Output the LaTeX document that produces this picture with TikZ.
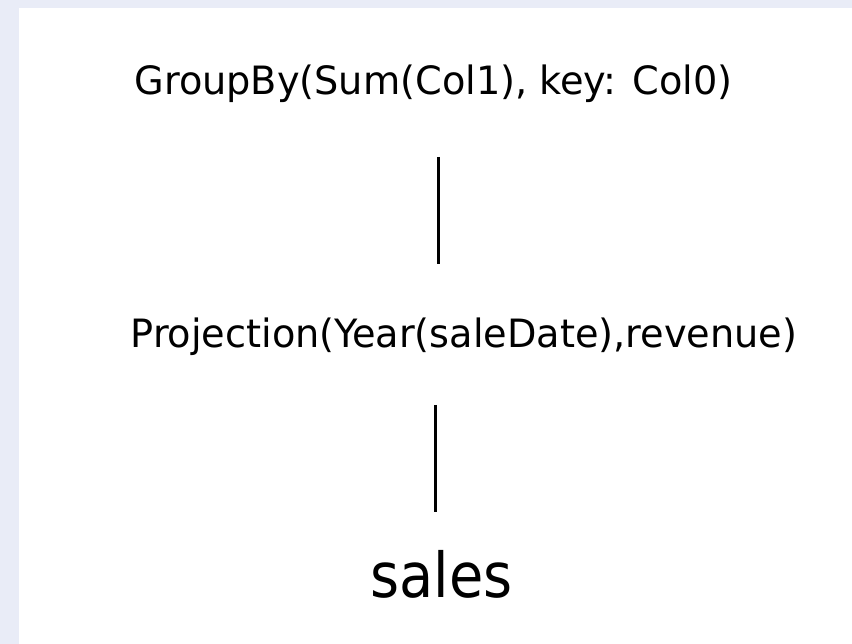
\documentclass[tikz,border=0pt]{standalone}
\usepackage{fontspec}
\setmainfont{DejaVu Sans Condensed}
\newfontfamily\opfont[FakeStretch=1.09]{DejaVu Sans Condensed}
\definecolor{pagebg}{HTML}{E9ECF7}
\tikzset{
  opnode/.style={anchor=base, inner sep=0pt, font=\opfont\fontsize{39}{45}\selectfont},
  relnode/.style={anchor=base, inner sep=0pt, font=\fontsize{62}{70}\selectfont},
  edge/.style={line width=3pt}
}
\begin{document}
\begin{tikzpicture}[x=1pt, y=-1pt]
  % page background and white slide area
  \fill[pagebg] (0,0) rectangle (852,644);
  \fill[white] (19,8) rectangle (852,644);
  \useasboundingbox (0,0) rectangle (852,644);

  % operator tree
  \node[opnode] (gb) at (433.5,95) {GroupBy(Sum(Col1), key: Col0)};
  \node[opnode] (proj) at (464,348) {Projection(Year(saleDate),revenue)};
  \node[relnode] (sales) at (441.5,597) {sales};

  \coordinate (e1top) at (438,157);
  \coordinate (e1bot) at (438,264);
  \coordinate (e2top) at (435,405);
  \coordinate (e2bot) at (435,512);
  \draw[edge] (e1top) -- (e1bot);
  \draw[edge] (e2top) -- (e2bot);
\end{tikzpicture}
\end{document}
